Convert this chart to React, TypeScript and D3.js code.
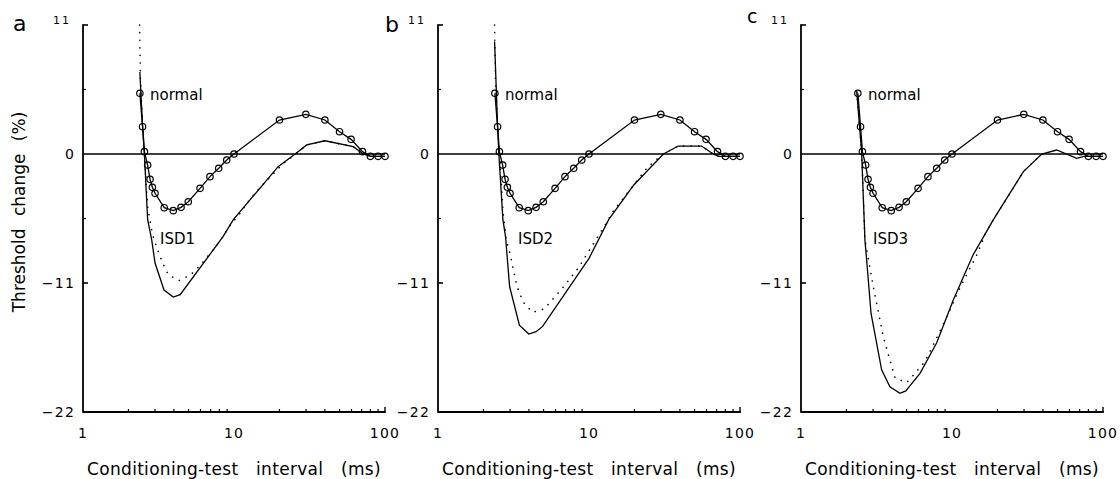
import React from "react";
import * as d3 from "d3";

// ---- data ----
const panels = ["a", "b", "c"];
const isdLabels = ["ISD1", "ISD2", "ISD3"];
const yTicks = [11, 0, -11, -22];
const yMinorTicks = [5.5, -5.5];
const xTicks = [1, 10, 100];

const normalX = [2.38, 2.48, 2.55, 2.68, 2.78, 2.88, 3.0, 3.45, 3.96, 4.46, 4.98, 5.96, 6.93, 7.92, 8.95, 10, 20, 29.9, 40, 50, 59.6, 71, 80, 90, 100];
const normalY = [5.18, 2.33, 0.2, -0.94, -2.16, -2.84, -3.35, -4.58, -4.83, -4.55, -4.07, -2.93, -1.93, -1.22, -0.51, 0, 2.9, 3.38, 2.9, 1.9, 1.25, 0.2, -0.2, -0.2, -0.2];

const isd1SolidX = [2.38, 2.48, 2.55, 2.68, 2.85, 3.0, 3.44, 3.96, 4.4, 8.46, 9.9, 19.6, 25.4, 30.3, 40, 61.7, 71.8, 80, 100];
const isd1SolidY = [7.0, 2.4, 0, -5.6, -7.3, -9.3, -11.6, -12.2, -12.0, -7.05, -5.6, -1.08, 0, 0.77, 1.13, 0.62, 0, -0.2, -0.2];
const isd1DotX = [2.37, 2.4, 2.48, 2.55, 2.68, 2.85, 2.95, 3.15, 3.37, 3.67, 4.32, 5.17, 5.96, 6.83, 7.68, 8.58, 9.41, 10.96, 12.4, 14.1, 16.2, 21.2, 25.7, 30.3, 40, 61.7, 71.8];
const isd1DotY = [11, 6.5, 2.5, 0, -4.5, -6.5, -7.3, -8.3, -9.3, -10.3, -10.8, -10.3, -9.5, -8.6, -7.8, -6.9, -6.1, -5.06, -4.07, -3.2, -2.36, -0.8, 0, 0.77, 1.13, 0.62, 0];

const isd2SolidX = [2.37, 2.48, 2.53, 2.69, 2.8, 2.98, 3.46, 3.99, 4.46, 4.93, 10, 13.5, 19.8, 31.1, 39, 55.7, 66.4, 72, 100];
const isd2SolidY = [9.6, 2.4, 0, -5.6, -7.05, -11.3, -14.6, -15.35, -15.15, -14.7, -8.9, -5.6, -2.64, 0, 0.68, 0.68, 0, -0.2, -0.2];
const isd2DotX = [2.37, 2.4, 2.48, 2.55, 2.7, 2.83, 3.0, 3.15, 3.3, 3.45, 3.74, 4.24, 5.06, 6.61, 8.47, 13, 14.6, 16.6, 23.6, 26.8, 31.1, 39, 55.7, 66.4];
const isd2DotY = [11, 6.5, 2.5, 0, -5, -7.3, -8.5, -9.8, -11.0, -11.8, -12.8, -13.5, -13.2, -11.5, -9.75, -5.9, -4.78, -3.9, -1.36, -0.65, 0, 0.68, 0.68, 0];

const isd3SolidX = [2.34, 2.52, 2.65, 2.72, 2.91, 3.42, 3.88, 4.52, 4.94, 6.14, 7.92, 10.2, 13.8, 18.8, 29.7, 39.3, 49.3, 67, 75, 100];
const isd3SolidY = [5.3, 0.2, -7.3, -9.0, -13.6, -18.4, -19.85, -20.4, -20.2, -18.7, -16.1, -12.45, -8.6, -5.6, -1.5, 0, 0.34, -0.37, -0.2, -0.2];
const isd3DotX = [2.34, 2.52, 2.65, 3.01, 3.51, 4.2, 5.0, 5.69, 6.62, 8.63, 11.0, 14.6, 16.9, 18.8, 29.7, 39.3];
const isd3DotY = [5.3, 0.2, -7.3, -11.3, -15.6, -19.1, -19.5, -18.7, -17.7, -14.7, -11.7, -8.6, -6.6, -5.6, -1.5, 0];

const solidSeries = [
  [isd1SolidX, isd1SolidY],
  [isd2SolidX, isd2SolidY],
  [isd3SolidX, isd3SolidY],
];
const dotSeries = [
  [isd1DotX, isd1DotY],
  [isd2DotX, isd2DotY],
  [isd3DotX, isd3DotY],
];

// ---- layout ----
const W = 1120;
const H = 479;
const panelX0 = [83, 438, 801];
const axisW = 302;
const yTop = 25;
const yBottom = 412;
const FONT = "'DejaVu Sans', 'Liberation Sans', sans-serif";

function zip(xs: number[], ys: number[]): [number, number][] {
  return xs.map((x, i) => [x, ys[i]] as [number, number]);
}

function Panel({ idx }: { idx: number }) {
  const x0 = panelX0[idx];
  const x = d3.scaleLog().domain([1, 100]).range([x0, x0 + axisW]);
  const y = d3.scaleLinear().domain([-22, 11]).range([yBottom, yTop]);
  const line = d3
    .line<[number, number]>()
    .x((d) => x(d[0]))
    .y((d) => y(d[1]));
  const minor: number[] = [];
  for (const dec of [1, 10]) for (let k = 2; k <= 9; k++) minor.push(dec * k);
  const normal = zip(normalX, normalY);
  const solid = zip(solidSeries[idx][0], solidSeries[idx][1]);
  const dots = zip(dotSeries[idx][0], dotSeries[idx][1]);
  const letterPos = [
    { x: 13, y: 31, s: 22 },
    { x: 385, y: 32, s: 22 },
    { x: 747, y: 23, s: 19 },
  ][idx];
  const normalDx = [67, 67, 67][idx];
  const isdDx = [77, 80, 72][idx];
  return (
    <g>
      <text x={letterPos.x} y={letterPos.y} fontSize={letterPos.s} fontFamily={FONT} fill="#000">
        {panels[idx]}
      </text>
      <line x1={x0} x2={x0 + axisW} y1={y(0)} y2={y(0)} stroke="#000" strokeWidth={1.6} />
      <line x1={x0} x2={x0} y1={yTop - 0.8} y2={yBottom + 0.8} stroke="#000" strokeWidth={1.8} />
      {yTicks.map((t) => (
        <g key={"yt" + t}>
          {t !== 0 && t !== -22 && (
            <line x1={x0} x2={x0 + 5} y1={y(t)} y2={y(t)} stroke="#000" strokeWidth={1.6} />
          )}
          <text
            x={x0 - (t === 11 ? 12 : 8)}
            y={y(t) + (t === 11 ? -1 : 5)}
            textAnchor="end"
            fontSize={t === 11 ? 11 : 14}
            letterSpacing={t === 11 ? 2 : 1.2}
            fontFamily={FONT}
            fill="#000"
          >
            {t < 0 ? "\u2212" + Math.abs(t) : String(t)}
          </text>
        </g>
      ))}
      {yMinorTicks.map((t) => (
        <line key={"ym" + t} x1={x0} x2={x0 + 3} y1={y(t)} y2={y(t)} stroke="#000" strokeWidth={1.2} />
      ))}
      <line x1={x0} x2={x0 + axisW + 0.8} y1={yBottom} y2={yBottom} stroke="#000" strokeWidth={1.8} />
      {minor.map((t) => (
        <line key={"xm" + t} x1={x(t)} x2={x(t)} y1={yBottom} y2={yBottom - 3} stroke="#000" strokeWidth={1.2} />
      ))}
      <line x1={x(100)} x2={x(100)} y1={yBottom} y2={yBottom - 5} stroke="#000" strokeWidth={1.4} />
      {xTicks.map((t) => (
        <text
          key={"xt" + t}
          x={x(t)}
          y={438}
          textAnchor="middle"
          fontSize={14}
          letterSpacing={1.2}
          fontFamily={FONT}
          fill="#000"
        >
          {String(t)}
        </text>
      ))}
      <text
        x={x0 + axisW / 2}
        y={475}
        textAnchor="middle"
        fontSize={17}
        letterSpacing={0.3}
        wordSpacing={12}
        fontFamily={FONT}
        fill="#000"
      >
        Conditioning-test interval (ms)
      </text>
      <path d={line(dots) || ""} fill="none" stroke="#000" strokeWidth={1.6} strokeDasharray="0.1,7.5" strokeLinecap="round" />
      <path d={line(solid) || ""} fill="none" stroke="#000" strokeWidth={1.3} />
      <path d={line(normal) || ""} fill="none" stroke="#000" strokeWidth={1.3} />
      {normal.map((d, i) => (
        <circle key={"c" + i} cx={x(d[0])} cy={y(d[1])} r={3.2} fill="none" stroke="#000" strokeWidth={1.2} />
      ))}
      <text x={x0 + normalDx} y={100} fontSize={15} fontFamily={FONT} fill="#000">
        normal
      </text>
      <text x={x0 + isdDx} y={244} fontSize={15} fontFamily={FONT} fill="#000">
        {isdLabels[idx]}
      </text>
    </g>
  );
}

export default function App() {
  return (
    <svg
      width={W}
      height={H}
      viewBox={`0 0 ${W} ${H}`}
      style={{ position: "absolute", left: 0, top: 0, background: "#fff" }}
    >
      <rect x={0} y={0} width={W} height={H} fill="#fff" />
      <text
        transform={`translate(25, 212) rotate(-90)`}
        textAnchor="middle"
        fontSize={17}
        wordSpacing={7}
        fontFamily={FONT}
        fill="#000"
      >
        Threshold change (%)
      </text>
      {panels.map((p, i) => (
        <Panel key={p} idx={i} />
      ))}
    </svg>
  );
}
